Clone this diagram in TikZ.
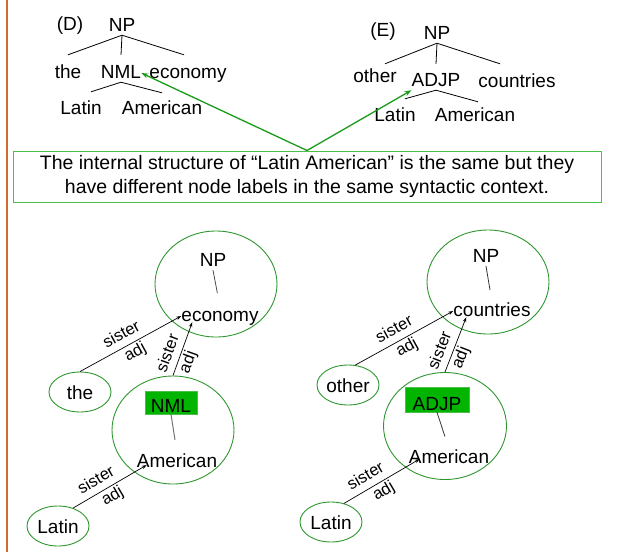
\documentclass[tikz,border=0pt]{standalone}
\usepackage{fontspec}
\setmainfont{Liberation Sans}
\usetikzlibrary{shapes.geometric,arrows.meta,calc}
\definecolor{ellgreen}{RGB}{46,150,46}
\definecolor{arrgreen}{RGB}{25,155,25}
\definecolor{boxfill}{RGB}{0,180,0}
\definecolor{boxdraw}{RGB}{75,190,75}
\definecolor{orng}{RGB}{210,105,45}
\begin{document}
\begin{tikzpicture}[x=1pt,y=-1pt,
  txt/.style={inner sep=0pt, text height=14pt, text depth=4pt, font=\fontsize{19pt}{23pt}\selectfont, anchor=base},
  tree/.style={line width=0.8pt, black},
  ell/.style={ellipse, draw=ellgreen, line width=0.9pt, inner sep=0pt},
  smallell/.style={ell, minimum width=62pt, minimum height=40pt, text height=14pt, text depth=0pt, font=\fontsize{19pt}{23pt}\selectfont},
  cat/.style={fill=boxfill, draw=boxdraw, line width=0.6pt, inner ysep=1.5pt, text depth=0pt, font=\fontsize{19pt}{23pt}\selectfont},
  rel/.style={line width=0.7pt, -{Stealth[length=5pt,width=3.5pt]}},
  lab/.style={font=\fontsize{16.5pt}{20pt}\selectfont, sloped, inner sep=1pt},
  callout/.style={arrgreen, line width=1.3pt, -{Stealth[length=7pt,width=5pt]}}
]
\useasboundingbox (0,0) rectangle (632,552);
\draw[orng, line width=1.5pt] (7,0) -- (7,552);

% ---- tree (D)
\node[txt] (dD) at (70,30) {(D)};
\node[txt] (npD) at (122,31) {NP};
\node[txt] (theD) at (68,78) {the};
\node[txt] (nmlD) at (121,78) {NML};
\node[txt] (ecoD) at (188,78) {economy};
\node[txt] (latD) at (81,114) {Latin};
\node[txt] (amD) at (162,114) {American};
\draw[tree] (npD.south) -- ([yshift=9pt]theD.north);
\draw[tree] (npD.south) -- ([yshift=9pt]nmlD.north);
\draw[tree] (npD.south) -- ([shift={(-4pt,9pt)}]ecoD.north);
\draw[tree] (nmlD.south) -- ([shift={(10pt,8pt)}]latD.north);
\draw[tree] (nmlD.south) -- ([yshift=7pt]amD.north);

% ---- tree (E)
\node[txt] (dE) at (383,36) {(E)};
\node[txt] (npE) at (437,39) {NP};
\node[txt] (othT) at (375,82) {other};
\node[txt] (adjpE) at (436,86) {ADJP};
\node[txt] (couE) at (517,87) {countries};
\node[txt] (latE) at (395,121) {Latin};
\node[txt] (amE) at (475,121) {American};
\draw[tree] (npE.south) -- ([shift={(10pt,4pt)}]othT.north);
\draw[tree] (npE.south) -- ([yshift=8pt]adjpE.north);
\draw[tree] (npE.south) -- ([shift={(-17pt,9pt)}]couE.north);
\draw[tree] (adjpE.south) -- ([shift={(10pt,8pt)}]latE.north);
\draw[tree] (adjpE.south) -- ([shift={(3pt,5pt)}]amE.north);

% ---- callout box
\node[draw=boxdraw, line width=1pt, minimum width=588pt, minimum height=51pt, inner sep=0pt,
      align=center, font=\fontsize{19.5pt}{24pt}\selectfont] (box) at (307,176.5)
  {The internal structure of “Latin American” is the same but they\\have different node labels in the same syntactic context.};
\draw[callout] (box.north) -- (nmlD.east);
\draw[callout] (box.north) -- (adjpE.south west);

% ---- lower left
\node[ell, minimum width=122pt, minimum height=106pt] (npLE) at (216,284) {};
\node[txt] (npL) at (213,266) {NP};
\node[txt] (ecoL) at (220,321) {economy};
\draw[black!70, line width=0.8pt, shorten >=14pt] (npL.south) -- (ecoL.north);
\node[smallell] (theE) at (80,392) {the};
\node[ell, minimum width=122pt, minimum height=108pt] (nmlE) at (173,430) {};
\node[cat, inner xsep=6pt, text height=20pt] (nmlB) at (171,402.5) {NML};
\node[txt] (amL) at (177,467) {American};
\draw[black!55, line width=1pt, shorten >=13pt] (nmlB.south) -- (amL.north);
\node[smallell] (latL) at (58,526) {Latin};
\draw[rel] (theE.north) -- (ecoL.west)
  node[lab, pos=.47, above=6pt] {sister} node[lab, pos=.5, below=1pt] {adj};
\draw[rel] (nmlE.north) -- ($(ecoL.south west)+(11,-3)$)
  node[lab, pos=.34, above=6pt] {sister} node[lab, pos=.31, below=1pt] {adj};
\draw[rel] (latL.50) -- ($(amL.west)+(10,3)$)
  node[lab, pos=.4, above=6pt] {sister} node[lab, pos=.47, below=1pt] {adj};

% ---- lower right
\node[ell, minimum width=122pt, minimum height=104pt] (npRE) at (488,282) {};
\node[txt] (npR) at (486,262) {NP};
\node[txt] (couR) at (492,316) {countries};
\draw[black!80, line width=0.8pt, shorten >=12pt] (npR.south) -- (couR.north);
\node[smallell] (othE) at (348,385) {other};
\node[ell, minimum width=123pt, minimum height=107pt] (adjE) at (445,426) {};
\node[cat, inner xsep=7.7pt, text height=22pt] (adjB) at (437,399.5) {ADJP};
\node[txt] (amR) at (449,463) {American};
\draw[black!80, line width=0.8pt, shorten >=13pt] (adjB.south) -- (amR.north);
\node[smallell] (latR) at (331,522) {Latin};
\draw[rel] (othE.70) -- (couR.west)
  node[lab, pos=.46, above=6pt] {sister} node[lab, pos=.48, below=1pt] {adj};
\draw[rel] (adjE.north) -- ($(couR.south west)+(13,-3)$)
  node[lab, pos=.31, above=6pt] {sister} node[lab, pos=.32, below=1pt] {adj};
\draw[rel] (latR.55) -- ($(amR.west)+(11,1)$)
  node[lab, pos=.37, above=6pt] {sister} node[lab, pos=.46, below=1pt] {adj};
\end{tikzpicture}
\end{document}
